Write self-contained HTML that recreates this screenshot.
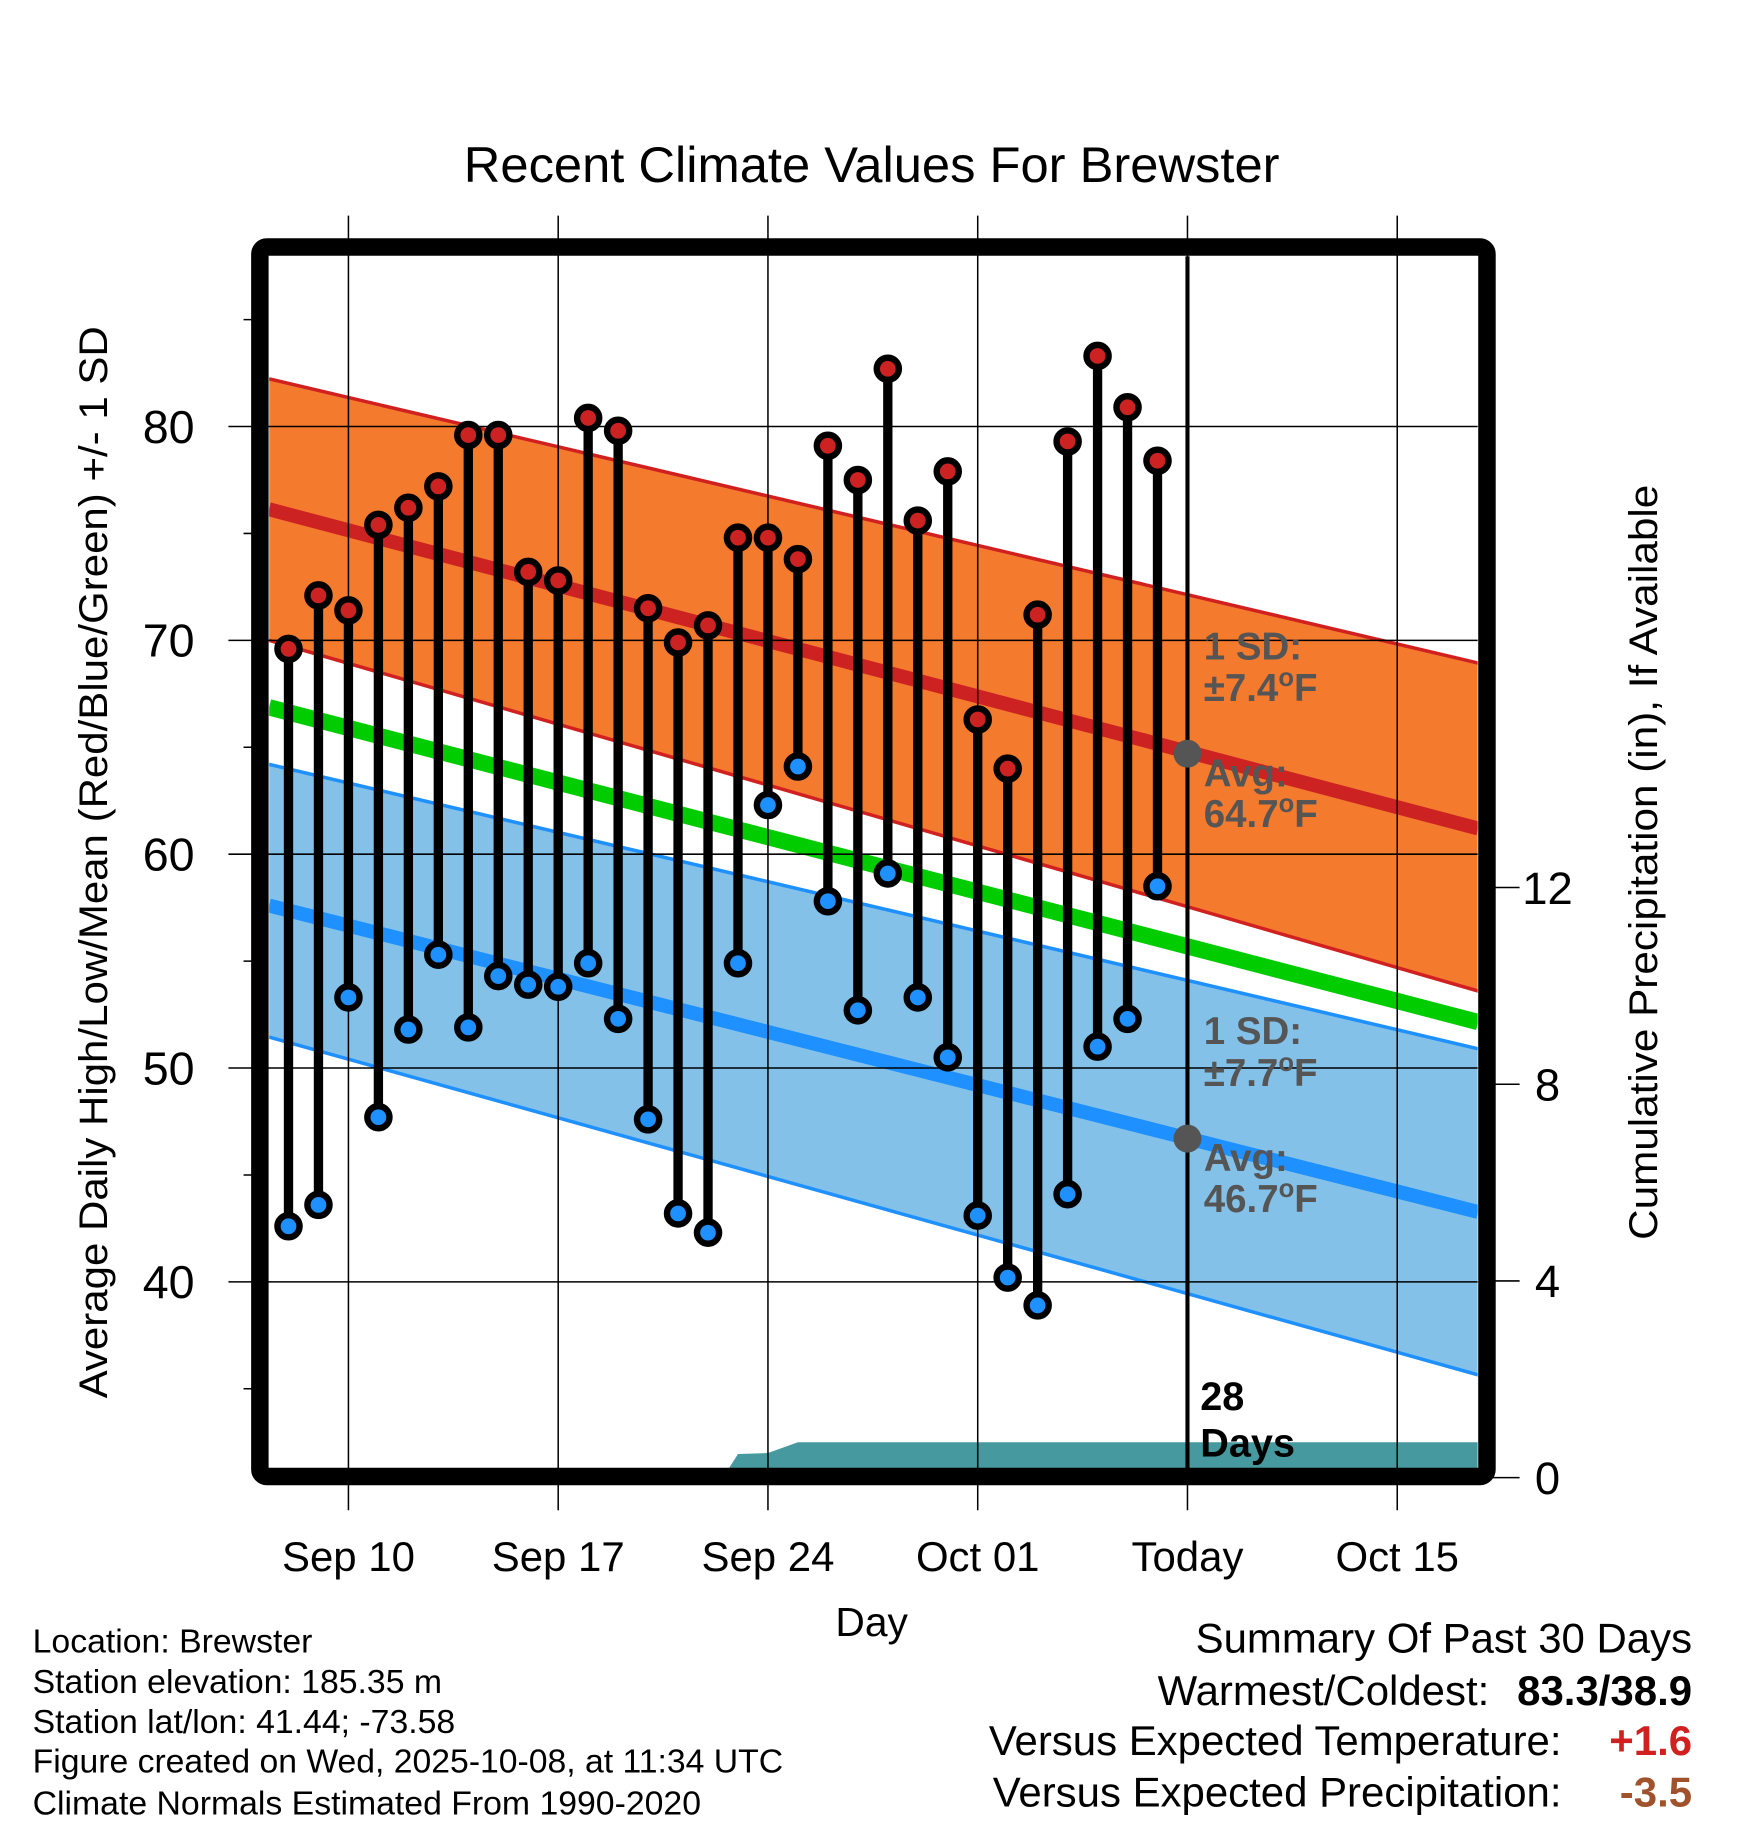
<!DOCTYPE html>
<html><head><meta charset="utf-8"><style>
html,body{margin:0;padding:0;background:#fff;}
svg{display:block;font-family:"Liberation Sans",Arial,sans-serif;}
</style></head><body>
<svg id="chart" width="1748" height="1828" viewBox="0 0 1500 1568.65" xmlns="http://www.w3.org/2000/svg">
<text x="748" y="156" font-size="43" text-anchor="middle" textLength="700" lengthAdjust="spacingAndGlyphs">Recent Climate Values For Brewster</text>
<defs><clipPath id="pc"><rect x="231" y="220" width="1037" height="1040"/></clipPath></defs>
<g id="plot" clip-path="url(#pc)"></g>
<g id="axes"></g>
<rect x="223" y="212" width="1053" height="1055" rx="6" fill="none" stroke="#000" stroke-width="15"/>
<g id="marks"></g>
<text x="748" y="1404" font-size="35" text-anchor="middle">Day</text>
<text transform="translate(92,740) rotate(-90)" font-size="34" text-anchor="middle" textLength="920" lengthAdjust="spacingAndGlyphs">Average Daily High/Low/Mean (Red/Blue/Green) +/- 1 SD</text>
<text transform="translate(1422,740) rotate(-90)" font-size="34" text-anchor="middle" textLength="648" lengthAdjust="spacingAndGlyphs">Cumulative Precipitation (in), If Available</text>
<g font-size="29">
<text x="28" y="1418">Location: Brewster</text>
<text x="28" y="1453">Station elevation: 185.35 m</text>
<text x="28" y="1487">Station lat/lon: 41.44; -73.58</text>
<text x="28" y="1521" textLength="644" lengthAdjust="spacingAndGlyphs">Figure created on Wed, 2025-10-08, at 11:34 UTC</text>
<text x="28" y="1557">Climate Normals Estimated From 1990-2020</text>
</g>
<g font-size="36" text-anchor="end">
<text x="1452" y="1418">Summary Of Past 30 Days</text>
<text x="1278" y="1463">Warmest/Coldest:</text>
<text x="1452" y="1463" font-weight="bold">83.3/38.9</text>
<text x="1340" y="1506">Versus Expected Temperature:</text>
<text x="1452" y="1506" font-weight="bold" fill="#d02020">+1.6</text>
<text x="1340" y="1550">Versus Expected Precipitation:</text>
<text x="1452" y="1550" font-weight="bold" fill="#a0522d">-3.5</text>
</g>
<script>
const dayLabels=["Sep 10","Sep 17","Sep 24","Oct 01","Today","Oct 15"];
const dayTicks=[0,7,14,21,28,35];
const yTicks=[40,50,60,70,80];
const yMinor=[35,45,55,65,75,85];
const precipTicks=[0,4,8,12];
const obsDays=[-2,-1,0,1,2,3,4,5,6,7,8,9,10,11,12,13,14,15,16,17,18,19,20,21,22,23,24,25,26,27];
const highs=[69.6,72.1,71.4,75.4,76.2,77.2,79.6,79.6,73.2,72.8,80.4,79.8,71.5,69.9,70.7,74.8,74.8,73.8,79.1,77.5,82.7,75.6,77.9,66.3,64.0,71.2,79.3,83.3,80.9,78.4];
const lows=[42.6,43.6,53.3,47.7,51.8,55.3,51.9,54.3,53.9,53.8,54.9,52.3,47.6,43.2,42.3,54.9,62.3,64.1,57.8,52.7,59.1,53.3,50.5,43.1,40.2,38.9,44.1,51.0,52.3,58.5];
const normDays=[-2.65,37.7];
const normHigh=[76.13,61.2];
const normHighUp=[82.23,68.94];
const normHighDn=[70.0,53.6];
const normMean=[66.87,52.15];
const normLow=[57.6,43.27];
const normLowUp=[64.2,50.9];
const normLowDn=[51.45,35.65];
const precipDays=[-2.65,12.5,13.0,14.0,15.0,37.7];
const precipVals=[0,0,0.48,0.5,0.72,0.72];
const todayDay=28;

const NS="http://www.w3.org/2000/svg";
const X=d=>299+d*(180/7);
const Y=t=>549.5-(t-70)*18.35;
const P=v=>1268-v*42.2;
function mk(tag,attrs,parent){const e=document.createElementNS(NS,tag);for(const k in attrs)e.setAttribute(k,attrs[k]);parent.appendChild(e);return e;}
const plot=document.getElementById('plot'),axes=document.getElementById('axes'),marks=document.getElementById('marks');
function band(up,dn,fill,name){
 let pts=normDays.map((d,i)=>X(d)+','+Y(up[i])).concat(normDays.slice().reverse().map((d,i)=>X(d)+','+Y(dn[dn.length-1-i])));
 const p=mk('polygon',{points:pts.join(' '),fill:fill},plot);
 
 
}
function line(vals,color,w,name){
 const p=mk('polyline',{points:normDays.map((d,i)=>X(d)+','+Y(vals[i])).join(' '),fill:'none',stroke:color,'stroke-width':w},plot);
 
 
}
band(normHighUp,normHighDn,'#f47a2e','high-sd-band');
band(normLowUp,normLowDn,'#83c1e8','low-sd-band');
line(normHighUp,'#d02020',3,'high-sd-upper');
line(normHighDn,'#d02020',3,'high-sd-lower');
line(normLowUp,'#1e90ff',3,'low-sd-upper');
line(normLowDn,'#1e90ff',3,'low-sd-lower');
line(normHigh,'#cc2222',12,'normal-high-line');
line(normLow,'#1e90ff',12,'normal-low-line');
line(normMean,'#00cc00',14,'normal-mean-line');
{const pts=precipDays.map((d,i)=>X(d)+','+P(precipVals[i]));pts.push(X(37.7)+',1270',X(-2.65)+',1270');
 const p=mk('polygon',{points:pts.join(' '),fill:'#46999e'},plot);
 
 }
dayTicks.forEach((d,i)=>{
 const g=mk('line',{x1:X(d),x2:X(d),y1:185,y2:1296,stroke:'#000','stroke-width':1.3},axes);
 
 
 const t=mk('text',{x:X(d),y:1348,'font-size':36,'text-anchor':'middle'},axes);t.textContent=dayLabels[i];
 
 
});
yTicks.forEach(v=>{
 const g=mk('line',{x1:196,x2:1268,y1:Y(v),y2:Y(v),stroke:'#000','stroke-width':1.3},axes);
 
 
 const t=mk('text',{x:167,y:Y(v)+14,'font-size':40,'text-anchor':'end'},axes);t.textContent=v;
 
 
});
yMinor.forEach(v=>{
 const g=mk('line',{x1:209,x2:223,y1:Y(v),y2:Y(v),stroke:'#000','stroke-width':1.3},axes);
 
 
});
precipTicks.forEach(v=>{
 const g=mk('line',{x1:1276,x2:1304,y1:P(v),y2:P(v),stroke:'#000','stroke-width':1.3},axes);
 
 
 const t=mk('text',{x:1328,y:P(v)+14,'font-size':39,'text-anchor':'middle'},axes);t.textContent=v;
 
 
});
{const l=mk('line',{x1:X(todayDay),x2:X(todayDay),y1:220,y2:1262,stroke:'#000','stroke-width':3.5},marks);
 
 }
obsDays.forEach((d,i)=>{
 const s=mk('line',{x1:X(d),x2:X(d),y1:Y(highs[i]),y2:Y(lows[i]),stroke:'#000','stroke-width':8},marks);
 
 
});
obsDays.forEach((d,i)=>{
 const h=mk('circle',{cx:X(d),cy:Y(highs[i]),r:9.5,fill:'#cc2222',stroke:'#000','stroke-width':5.5},marks);
 
 
 const l=mk('circle',{cx:X(d),cy:Y(lows[i]),r:9.5,fill:'#1e90ff',stroke:'#000','stroke-width':5.5},marks);
 
 
});
const todayHigh=64.7, todayLow=46.7;
[[todayHigh,'±7.4'],[todayLow,'±7.7']].forEach(([v,sd])=>{
 const c=mk('circle',{cx:X(todayDay),cy:Y(v),r:12,fill:'#555'},marks);
 
 
 const g=mk('g',{fill:'#555','font-size':33,'font-weight':'bold'},marks);
 
 
 const y=Y(v);
 const lines=[[y-81,'1 SD:'],[y-45,sd+'°F'],[y+28,'Avg:'],[y+63,v.toFixed(1)+'°F']];
 lines.forEach(([yy,tx])=>{const t=mk('text',{x:1033,y:yy},g);
  if(tx.endsWith('°F')){t.textContent=tx.slice(0,-2);const o=mk('tspan',{dy:-13,'font-size':22},t);o.textContent='o';const f=mk('tspan',{dy:13},t);f.textContent='F';}
  else t.textContent=tx;});
});
{const g=mk('g',{'font-size':34,'font-weight':'bold'},marks);
 
 
 mk('text',{x:1030,y:1210},g).textContent='28';
 mk('text',{x:1030,y:1250},g).textContent='Days';}
</script>
</svg>
</body></html>
